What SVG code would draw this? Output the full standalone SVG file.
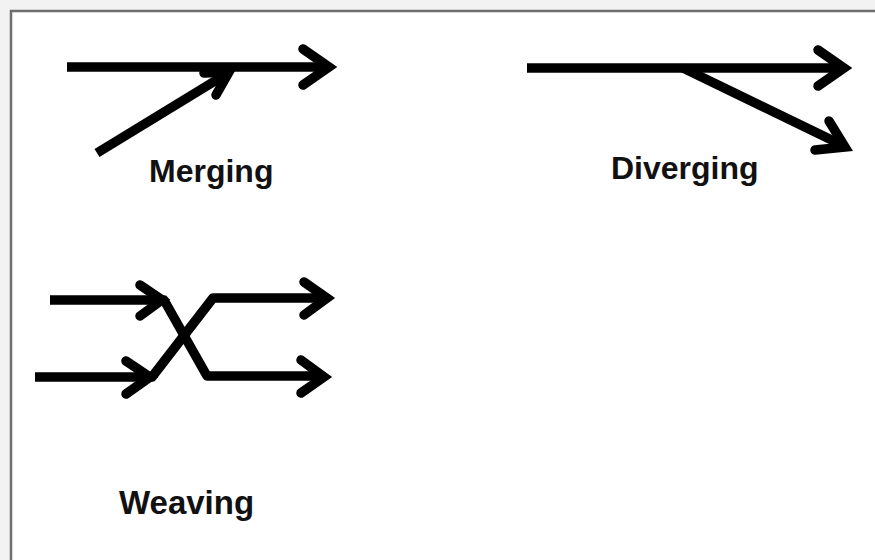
<svg xmlns="http://www.w3.org/2000/svg" width="875" height="560" viewBox="0 0 875 560">
  <style>
    .ln { fill: none; stroke: #000; stroke-width: 9.5; stroke-linecap: butt; stroke-linejoin: round; }
    .hd { fill: none; stroke: #000; stroke-width: 9.5; stroke-linecap: round; stroke-linejoin: miter; stroke-miterlimit: 10; }
    .lbl { font-family: "Liberation Sans", Arial, Helvetica, sans-serif; font-weight: bold; font-size: 32px; fill: #111; }
  </style>
  <rect x="0" y="0" width="875" height="560" fill="#f2f2f2"/>
  <rect x="11" y="11" width="880" height="570" fill="#ffffff" stroke="#6e6e6e" stroke-width="2.5"/>

  <g id="connectors">
    <g id="merging-arrows">
      <path class="ln" d="M67,67 L328,67"/>
      <path class="hd" d="M303,49 L329,67 L303,85"/>
      <path class="ln" d="M97,153 L228,73"/>
      <path class="hd" d="M204,73 L229,72 L216,95"/>
    </g>
    <g id="diverging-arrows">
      <path class="ln" d="M527,68 L843,68"/>
      <path class="hd" d="M818,50 L844,68 L818,86"/>
      <path class="ln" d="M683,68 L842,145"/>
      <path class="hd" d="M829,121 L845,147 L815,150"/>
    </g>
    <g id="weaving-arrows">
      <path class="ln" d="M50,300 L164,300 L207,376 L322,376"/>
      <path class="ln" d="M35,377 L152,377 L213,298 L325,298"/>
      <path class="hd" d="M140,285 L162,300 L140,316"/>
      <path class="hd" d="M126,361 L150,377 L126,394"/>
      <path class="hd" d="M304,282 L327,298 L304,315"/>
      <path class="hd" d="M301,360 L324,377 L301,393"/>
    </g>
  </g>

  <g id="merging">
    <text class="lbl" x="149" y="182">Merging</text>
  </g>
  <g id="diverging">
    <text class="lbl" x="611" y="179">Diverging</text>
  </g>
  <g id="weaving">
    <text class="lbl" x="119" y="514" style="font-size:33px">Weaving</text>
  </g>
</svg>
